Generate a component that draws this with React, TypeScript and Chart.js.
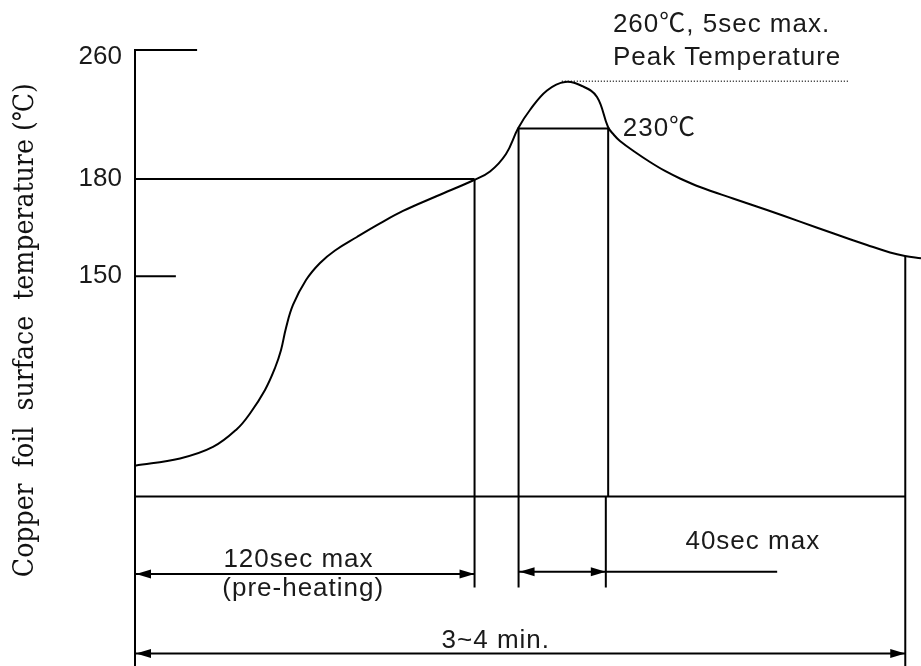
import { useEffect, useRef } from "react";
import { Chart, registerables } from "chart.js";

Chart.register(...registerables);

const SANS = '"Liberation Sans", "Noto Sans CJK KR", sans-serif';
const SERIF = '"DejaVu Serif", "Liberation Serif", "Noto Sans CJK KR", serif';

// Schematic diagram units: x runs 0..100 along the time axis,
// y is 0 on the time-axis line and 100 at the top of the temperature axis.
const profileX = [0, 5.73, 9.92, 12.98, 14.63, 16.54, 17.81, 18.58, 19.21, 20.1, 21.76, 23.54, 25.45, 28.24, 31.17, 34.1, 38.42, 43.0, 45.17, 47.2, 48.73, 50.25, 52.42, 54.71, 57.0, 58.78, 60.18, 60.94, 61.7, 63.61, 65.52, 67.43, 69.34, 71.88, 76.08, 80.41, 84.61, 88.8, 93.13, 96.06, 97.96, 100];
const profileY = [6.88, 8.49, 11.07, 15.1, 18.57, 23.84, 28.76, 32.8, 37.73, 42.88, 48.48, 52.29, 55.09, 58.11, 61.14, 63.94, 67.3, 70.77, 72.79, 76.71, 82.42, 86.56, 90.93, 92.84, 91.83, 89.48, 82.75, 80.96, 79.62, 77.15, 74.91, 72.9, 71.22, 69.31, 66.74, 64.16, 61.54, 58.94, 56.32, 54.64, 53.86, 53.34];

const yTickLabels = ["150", "180", "260"];
const yTickLabelPos = [49.3, 71.1, 98.4];
const yTickLevels = [49.3, 71.1, 100];
const yTickEnds = [5.2, 43.2, 7.9];

const preheatEndX = 43.2;
const reflowStartX = 48.8;
const reflowEndX = 60.2;
const reflowEndLowerX = 59.9;
const reflowLevel = 82.4;
const profileEndX = 98;
const profileEndY = 53.9;
const peakLevel = 93.0;
const peakLineX = [54.3, 90.8];
const dimBottom = -20.4;
const axisBottom = -38;

const arrowFrom = [0, 48.8, 0];
const arrowTo = [43.2, 59.9, 98];
const arrowY = [-17.4, -16.9, -35.2];
const leaderLineEnd = 81.7;

const annotTexts = ["260℃, 5sec max.", "Peak Temperature", "230℃", "120sec max", "(pre-heating)", "40sec max", "3~4 min."];
const annotX = [60.8, 60.8, 62.05, 20.8, 21.4, 78.6, 45.9];
const annotY = [104.0, 96.65, 80.74, -15.8, -22.3, -11.85, -34.0];
const annotAlign: CanvasTextAlign[] = ["left", "left", "left", "center", "center", "center", "center"];

const yAxisTitle = "Copper  foil  surface  temperature (℃)";

function seg(points: number[][], extra: Record<string, unknown> = {}) {
  return {
    type: "line" as const,
    data: points.map(([x, y]) => ({ x, y })),
    borderColor: "#000",
    borderWidth: 2,
    pointRadius: 0,
    fill: false,
    tension: 0,
    clip: false,
    ...extra,
  };
}

const overlayPlugin = {
  id: "overlay",
  afterDraw(chart: any) {
    const ctx: CanvasRenderingContext2D = chart.ctx;
    const xs = chart.scales.x;
    const ys = chart.scales.y;
    ctx.save();
    // arrowheads
    ctx.fillStyle = "#000";
    const head = (tip: number, y: number, dir: number) => {
      ctx.beginPath();
      ctx.moveTo(tip, y);
      ctx.lineTo(tip - dir * 15, y - 4.5);
      ctx.lineTo(tip - dir * 15, y + 4.5);
      ctx.closePath();
      ctx.fill();
    };
    for (let i = 0; i < arrowY.length; i++) {
      const py = ys.getPixelForValue(arrowY[i]);
      head(xs.getPixelForValue(arrowFrom[i]) + 1, py, -1);
      head(xs.getPixelForValue(arrowTo[i]), py, 1);
    }
    // annotations
    ctx.fillStyle = "#1a1a1a";
    ctx.font = `26px ${SANS}`;
    (ctx as any).letterSpacing = "1px";
    ctx.textBaseline = "alphabetic";
    for (let i = 0; i < annotTexts.length; i++) {
      ctx.textAlign = annotAlign[i];
      ctx.fillText(annotTexts[i], xs.getPixelForValue(annotX[i]), ys.getPixelForValue(annotY[i]));
    }
    // rotated axis title
    (ctx as any).letterSpacing = "0px";
    ctx.font = `28px ${SERIF}`;
    const w = ctx.measureText(yAxisTitle).width;
    const mid = (ys.getPixelForValue(100) + ys.getPixelForValue(0)) / 2 + 57;
    ctx.translate(26, mid);
    ctx.rotate(-Math.PI / 2);
    ctx.scale(494 / w, 1);
    ctx.textAlign = "center";
    ctx.textBaseline = "middle";
    ctx.fillStyle = "#111";
    ctx.fillText(yAxisTitle, 0, 0);
    ctx.restore();
  },
};

export default function App() {
  const ref = useRef<HTMLCanvasElement | null>(null);

  useEffect(() => {
    if (!ref.current) return;
    const datasets: any[] = [
      seg(profileX.map((x, i) => [x, profileY[i]]), { tension: 0.4 }),
      ...yTickLevels.map((lv, i) => seg([[0, lv], [yTickEnds[i], lv]])),
      seg([[0, 0], [profileEndX, 0]]),
      seg([[preheatEndX, yTickLevels[1]], [preheatEndX, dimBottom]]),
      seg([[reflowStartX, dimBottom], [reflowStartX, reflowLevel], [reflowEndX, reflowLevel], [reflowEndX, 0]]),
      seg([[reflowEndLowerX, 0], [reflowEndLowerX, dimBottom]]),
      seg([[profileEndX, profileEndY], [profileEndX, axisBottom]]),
      seg([[peakLineX[0], peakLevel], [peakLineX[1], peakLevel]], { borderWidth: 1.3, borderDash: [1, 2], borderColor: "#222" }),
      ...arrowY.map((y, i) => seg([[arrowFrom[i], y], [arrowTo[i], y]])),
      seg([[arrowTo[1], arrowY[1]], [leaderLineEnd, arrowY[1]]]),
    ];

    const chart = new Chart(ref.current, {
      type: "line",
      data: { datasets },
      plugins: [overlayPlugin],
      options: {
        responsive: false,
        animation: false,
        devicePixelRatio: 1,
        layout: { padding: { top: 50, left: 0, right: 0, bottom: 0 } },
        plugins: { legend: { display: false }, tooltip: { enabled: false } },
        scales: {
          x: { type: "linear", min: 0, max: 100, display: false },
          y: {
            type: "linear",
            min: axisBottom,
            max: 100,
            position: "left",
            grid: { display: false, drawTicks: false },
            border: { display: true, color: "#000", width: 2 },
            ticks: {
              padding: 13,
              color: "#1a1a1a",
              font: { family: SANS, size: 26 },
              autoSkip: false,
              callback: (v: any) => {
                const i = yTickLabelPos.indexOf(Number(v));
                return i >= 0 ? yTickLabels[i] : "";
              },
            },
            afterBuildTicks: (s: any) => {
              s.ticks = yTickLabelPos.map((value) => ({ value }));
            },
            afterFit: (s: any) => {
              s.width = 135;
              s.paddingTop = 0;
              s.paddingBottom = 0;
            },
          },
        },
      } as any,
    });
    return () => chart.destroy();
  }, []);

  return (
    <div style={{ position: "fixed", left: 0, top: 0, width: 921, height: 666, background: "#fff" }}>
      <canvas ref={ref} width={921} height={666} style={{ display: "block" }} />
    </div>
  );
}
